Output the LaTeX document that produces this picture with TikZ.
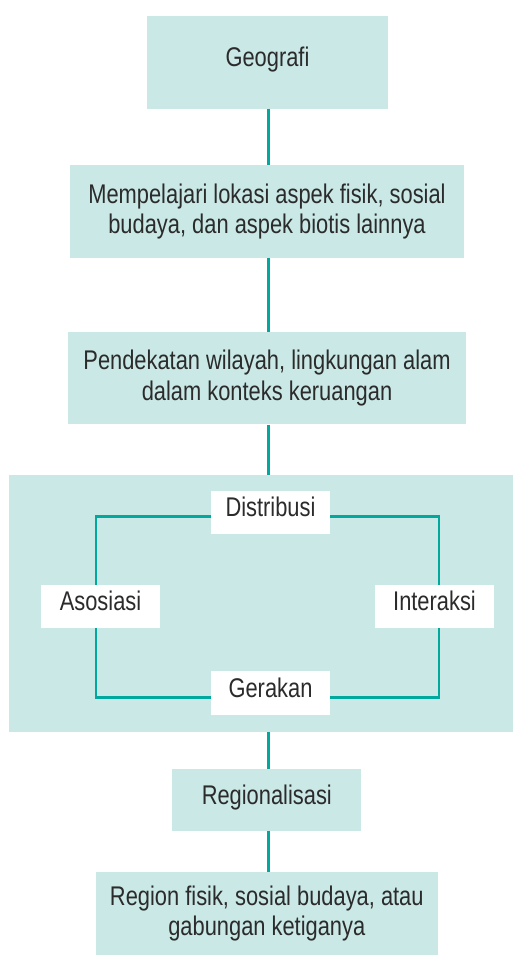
\documentclass[tikz,border=0pt]{standalone}
\usepackage{fontspec}
\setmainfont{Liberation Sans}[FakeStretch=0.81]
\definecolor{boxfill}{HTML}{C9E8E6}
\definecolor{teal}{HTML}{00A89D}
\definecolor{txt}{HTML}{2B2B2B}
\begin{document}
\begin{tikzpicture}[x=1pt,y=-1pt,
  every node/.style={font=\fontsize{27}{30.5}\selectfont, text=txt, inner sep=0pt},
  tbox/.style={fill=boxfill, draw=none, align=center},
  one/.style={text height=20pt, text depth=12pt},
  wbox/.style={fill=white, draw=none, minimum width=119pt, minimum height=43.5pt, one},
  conn/.style={draw=teal, line width=2.5pt}]
\useasboundingbox (0,0) rectangle (513,955);
\coordinate (lx) at (268.3,0);
% main boxes
\node[tbox, one, minimum width=241pt, minimum height=92.6pt] (geo) at (267.5,62.3) {Geografi};
\node[tbox, minimum width=394pt, minimum height=92.7pt] (mem) at (267,211.3) {Mempelajari lokasi aspek fisik, sosial\\budaya, dan aspek biotis lainnya};
\node[tbox, minimum width=398pt, minimum height=92.3pt] (pen) at (267,378.2) {Pendekatan wilayah, lingkungan alam\\dalam konteks keruangan};
\node[tbox, minimum width=503.7pt, minimum height=256.7pt] (big) at (261.2,603.4) {};
\node[tbox, one, minimum width=189pt, minimum height=61.4pt] (reg) at (266.8,800) {Regionalisasi};
\node[tbox, minimum width=341.7pt, minimum height=82.7pt] (rf) at (266.8,913.7) {Region fisik, sosial budaya, atau\\gabungan ketiganya};
% vertical connectors
\draw[conn] (geo.south -| lx) -- (mem.north -| lx);
\draw[conn] (mem.south -| lx) -- (pen.north -| lx);
\draw[conn] (pen.south -| lx) -- (big.north -| lx);
\draw[conn] (big.south -| lx) -- (reg.north -| lx);
\draw[conn] (reg.south -| lx) -- (rf.north -| lx);
% inner loop
\coordinate (tl) at (95.8,516.7);
\coordinate (br) at (439.2,697.3);
\draw[conn] (tl) rectangle (br);
\node[wbox] (dis) at (270.5,512.3) {Distribusi};
\node[wbox] (aso) at (100.5,606.5) {Asosiasi};
\node[wbox] (int) at (434.5,606.5) {Interaksi};
\node[wbox] (ger) at (270.5,693) {Gerakan};
\end{tikzpicture}
\end{document}
